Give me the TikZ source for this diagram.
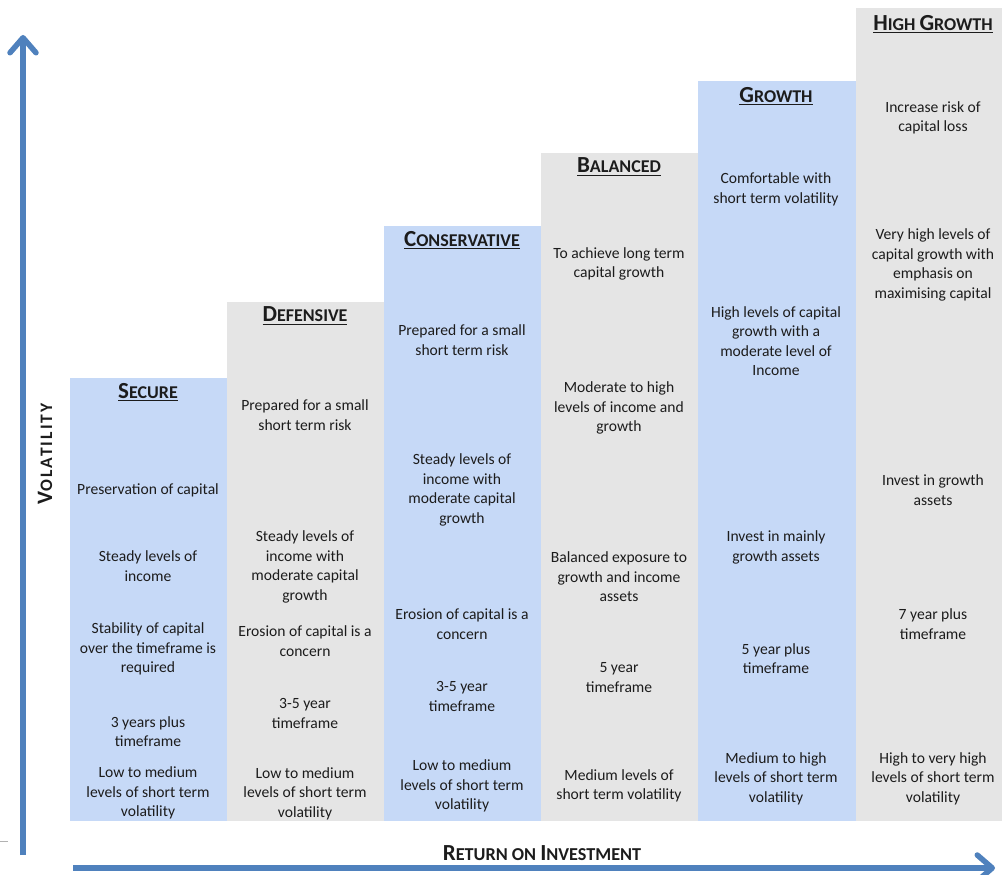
\documentclass[tikz,border=0pt]{standalone}
\usepackage{fontspec}
\setmainfont{Carlito}
\usetikzlibrary{arrows.meta}
\definecolor{colblue}{RGB}{198,217,247}
\definecolor{colgray}{RGB}{229,229,229}
\definecolor{axisblue}{RGB}{79,129,189}
\definecolor{txtc}{RGB}{28,28,28}
\newcommand\fakesc[2]{{\fontsize{23}{24}\selectfont #1}{\fontsize{18}{24}\selectfont #2}}
\newcommand\axsc[2]{{\fontsize{23}{24}\selectfont #1}{\fontsize{18.2}{24}\selectfont #2}}
\newcommand\volsc[2]{{\addfontfeature{LetterSpace=12}{\fontsize{22}{24}\selectfont #1}{\fontsize{17.5}{24}\selectfont #2}}}
\newcommand\myul[1]{\setbox0\hbox{#1}\rlap{\rule[-3pt]{\wd0}{1.4pt}}\box0}
\newcommand\coltitle[2]{\myul{\bfseries\fakesc{#1}{#2}}}
\tikzset{
  bluecol/.style={fill=colblue},
  graycol/.style={fill=colgray},
  txt/.style={align=center,inner sep=0pt,text=txtc,font=\fontsize{15.6}{19.5}\selectfont},
  ttl/.style={inner sep=0pt,text=txtc},
  axis/.style={draw=axisblue,line width=5.5pt,-{Straight Barb[length=15pt,width=26pt,round]}},
}
\begin{document}
\begin{tikzpicture}[x=1pt,y=-1pt]
\useasboundingbox (0,0) rectangle (1002,875);
% columns
\path[bluecol] (69.5,378) rectangle (226.5,821);
\path[graycol] (226.5,302) rectangle (383.5,821);
\path[bluecol] (383.5,226) rectangle (540.5,821);
\path[graycol] (540.5,153) rectangle (697.5,821);
\path[bluecol] (697.5,81) rectangle (855.5,821);
\path[graycol] (855.5,8) rectangle (1002,821);
% small rule at left
\draw[gray!60,line width=0.8pt] (0,841) -- (8,841);
% axes
\coordinate (vbot) at (23,855);
\coordinate (vtop) at (23,35);
\coordinate (hl) at (73,868);
\coordinate (hr) at (995,868);
\draw[axis] (vbot) -- (vtop);
\draw[axis] (hl) -- (hr);
\node[ttl,rotate=90] (vol) at (45,454) {\bfseries\volsc{V}{OLATILITY}};
\node[ttl] (roi) at (542,853) {\bfseries\axsc{R}{ETURN ON }\axsc{I}{NVESTMENT}};
% Secure
\node[ttl] (t1) at (148,392) {\coltitle{S}{ECURE}};
\node[txt] (s1) at (148,490) {Preservation of capital};
\node[txt] (s2) at (148,566) {Steady levels of\\income};
\node[txt] (s3) at (148,649) {Stability of capital\\over the timeframe is\\required};
\node[txt] (s4) at (148,731.5) {3 years plus\\timeframe};
\node[txt] (s5) at (148,793) {Low to medium\\levels of short term\\volatility};
% Defensive
\node[ttl] (t2) at (305,316) {\coltitle{D}{EFENSIVE}};
\node[txt] (d1) at (305,415) {Prepared for a small\\short term risk};
\node[txt] (d2) at (305,567) {Steady levels of\\income with\\moderate capital\\growth};
\node[txt] (d3) at (305,641) {Erosion of capital is a\\concern};
\node[txt] (d4) at (305,713.5) {3-5 year\\timeframe};
\node[txt] (d5) at (305,793.5) {Low to medium\\levels of short term\\volatility};
% Conservative
\node[ttl] (t3) at (462,240) {\coltitle{C}{ONSERVATIVE}};
\node[txt] (c1) at (462,340) {Prepared for a small\\short term risk};
\node[txt] (c2) at (462,490) {Steady levels of\\income with\\moderate capital\\growth};
\node[txt] (c3) at (462,624) {Erosion of capital is a\\concern};
\node[txt] (c4) at (462,696.5) {3-5 year\\timeframe};
\node[txt] (c5) at (462,786) {Low to medium\\levels of short term\\volatility};
% Balanced
\node[ttl] (t4) at (619,167) {\coltitle{B}{ALANCED}};
\node[txt] (b1) at (619,264) {To achieve long term\\capital growth};
\node[txt] (b2) at (619,408) {Moderate to high\\levels of income and\\growth};
\node[txt] (b3) at (619,577) {Balanced exposure to\\growth and income\\assets};
\node[txt] (b4) at (619,677.5) {5 year\\timeframe};
\node[txt] (b5) at (619,786) {Medium levels of\\short term volatility};
% Growth
\node[ttl] (t5) at (776,96) {\coltitle{G}{ROWTH}};
\node[txt] (g1) at (776,189.5) {Comfortable with\\short term volatility};
\node[txt] (g2) at (776,341) {High levels of capital\\growth with a\\moderate level of\\Income};
\node[txt] (g3) at (776,547.5) {Invest in mainly\\growth assets};
\node[txt] (g4) at (776,658.5) {5 year plus\\timeframe};
\node[txt] (g5) at (776,778.5) {Medium to high\\levels of short term\\volatility};
% High Growth
\node[ttl] (t6) at (933,24) {\coltitle{H}{IGH }\coltitle{G}{ROWTH}};
\node[txt] (h1) at (933,118) {Increase risk of\\capital loss};
\node[txt] (h2) at (933,265) {Very high levels of\\capital growth with\\emphasis on\\maximising capital};
\node[txt] (h3) at (933,490) {Invest in growth\\assets};
\node[txt] (h4) at (933,624) {7 year plus\\timeframe};
\node[txt] (h5) at (933,778.5) {High to very high\\levels of short term\\volatility};
\end{tikzpicture}
\end{document}
